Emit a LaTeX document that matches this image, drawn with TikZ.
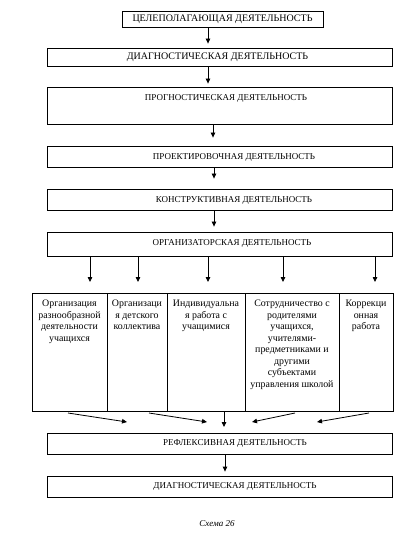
\documentclass[tikz,border=0pt]{standalone}
\usepackage{fontspec}
\setmainfont{Liberation Serif}
\usetikzlibrary{arrows.meta}
\begin{document}
\begin{tikzpicture}[x=1pt,y=-1pt,
  box/.style={draw, line width=0.8pt, inner sep=0pt, minimum width=345pt},
  cell/.style={draw, line width=0.8pt, inner sep=0pt, anchor=north west, minimum height=118pt},
  bigtxt/.style={inner sep=0pt, font=\fontsize{10}{12}\selectfont},
  midtxt/.style={inner sep=0pt, font=\fontsize{9}{11}\selectfont},
  celltxt/.style={inner sep=0pt, anchor=north, align=center, font=\fontsize{9.9}{11.5}\selectfont},
  arr/.style={line width=0.8pt, -{Triangle[length=5pt,width=4.5pt]}}
]
\useasboundingbox (0,0) rectangle (406,534);
% main boxes
\node[box, minimum width=201pt, minimum height=16pt] (b1) at (222.5,19) {};
\node[box, minimum height=18pt] (b2) at (219.5,57) {};
\node[box, minimum height=37pt] (b3) at (219.5,105.5) {};
\node[box, minimum height=21pt] (b4) at (219.5,156.5) {};
\node[box, minimum height=21pt] (b5) at (219.5,199.5) {};
\node[box, minimum height=24pt] (b6) at (219.5,244) {};
\node[box, minimum height=21pt] (b7) at (219.5,443.5) {};
\node[box, minimum height=21pt] (b8) at (219.5,486.5) {};
% texts
\node[bigtxt] (t1) at (222.5,19) {ЦЕЛЕПОЛАГАЮЩАЯ ДЕЯТЕЛЬНОСТЬ};
\node[bigtxt] (t2) at (217.5,57) {ДИАГНОСТИЧЕСКАЯ ДЕЯТЕЛЬНОСТЬ};
\node[midtxt] (t3) at (226,98) {ПРОГНОСТИЧЕСКАЯ ДЕЯТЕЛЬНОСТЬ};
\node[midtxt] (t4) at (234,157) {ПРОЕКТИРОВОЧНАЯ ДЕЯТЕЛЬНОСТЬ};
\node[midtxt] (t5) at (234,200) {КОНСТРУКТИВНАЯ ДЕЯТЕЛЬНОСТЬ};
\node[midtxt] (t6) at (232,243) {ОРГАНИЗАТОРСКАЯ ДЕЯТЕЛЬНОСТЬ};
\node[midtxt] (t7) at (235,443) {РЕФЛЕКСИВНАЯ ДЕЯТЕЛЬНОСТЬ};
\node[midtxt] (t8) at (235,486) {ДИАГНОСТИЧЕСКАЯ ДЕЯТЕЛЬНОСТЬ};
% table cells
\node[cell, minimum width=75pt] (c1) at (32,293) {};
\node[cell, minimum width=60pt] (c2) at (107,293) {};
\node[cell, minimum width=78pt] (c3) at (167,293) {};
\node[cell, minimum width=94pt] (c4) at (245,293) {};
\node[cell, minimum width=54pt] (c5) at (339,293) {};
\node[celltxt] (ct1) at (69.5,300) {Организация\\разнообразной\\деятельности\\учащихся};
\node[celltxt] (ct2) at (137,300) {Организаци\\я детского\\коллектива};
\node[celltxt] (ct3) at (206,300) {Индивидуальна\\я работа с\\учащимися};
\node[celltxt] (ct4) at (292,300) {Сотрудничество с\\родителями\\учащихся,\\учителями-\\предметниками и\\другими\\субъектами\\управления школой};
\node[celltxt] (ct5) at (366,300) {Коррекци\\онная\\работа};
% arrows in the main chain
\draw[arr, shorten >=4pt] (b1.south -| 208,0) -- (b2.north -| 208,0);
\draw[arr, shorten >=3pt] (b2.south -| 208,0) -- (b3.north -| 208,0);
\draw[arr, shorten >=8pt] (b3.south -| 213,0) -- (b4.north -| 213,0);
\draw[arr, shorten >=10pt] (b4.south -| 214,0) -- (b5.north -| 214,0);
\draw[arr, shorten >=5pt] (b5.south -| 214,0) -- (b6.north -| 214,0);
\draw[arr, shorten >=4pt] (b7.south -| 225,0) -- (b8.north -| 225,0);
% arrows to the table
\foreach \x/\c in {90/c1,138/c2,208/c3,283/c4,375/c5}
  \draw[arr, shorten >=11pt] (b6.south -| \x,0) -- (\c.north -| \x,0);
% arrows from the table to the reflexive box
\coordinate (s1) at (68,413);   \coordinate (e1) at (127,422);
\coordinate (s2) at (149,413);  \coordinate (e2) at (207,422);
\coordinate (s4) at (295,413);  \coordinate (e4) at (252,422);
\coordinate (s5) at (369,413);  \coordinate (e5) at (317,422);
\coordinate (e3) at (224,427);
\draw[arr] (s1) -- (e1);
\draw[arr] (s2) -- (e2);
\draw[arr] (c3.south -| 224,0) -- (e3);
\draw[arr] (s4) -- (e4);
\draw[arr] (s5) -- (e5);
% caption
\node[inner sep=0pt, font=\itshape\fontsize{9}{10}\selectfont] (cap) at (217,524) {Схема 26};
\end{tikzpicture}
\end{document}
